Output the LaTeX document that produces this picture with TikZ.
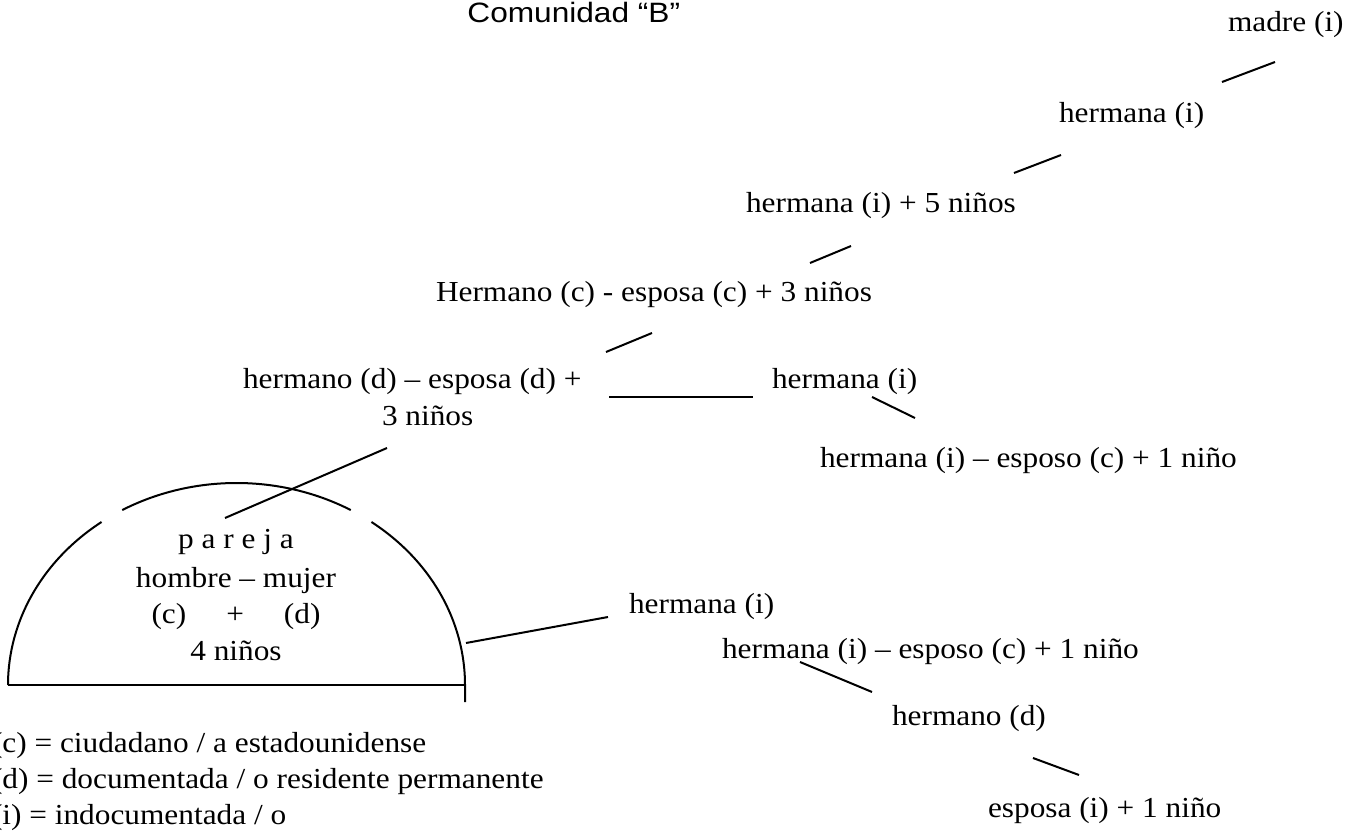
\documentclass[tikz,border=0pt]{standalone}
\usepackage{fontspec}
\setmainfont{Liberation Serif}[FakeStretch=1.08]
\newfontfamily\titlefont{Liberation Sans}[FakeStretch=1.13]
\usetikzlibrary{calc}
\begin{document}
\begin{tikzpicture}[x=0.5pt,y=-0.5pt,
  lbl/.style={inner sep=0pt,outer sep=0pt,font=\fontsize{14.5pt}{18.5pt}\selectfont},
  lw/.style={lbl,anchor=base west},
  lc/.style={lbl,anchor=base},
  conn/.style={line width=1pt},
  shapeline/.style={line width=1pt}]
\useasboundingbox (0,0) rectangle (1348,839);

% title
\node[inner sep=0pt,anchor=base west,font=\titlefont\fontsize{14pt}{17pt}\selectfont] (title) at (467,23) {Comunidad “B”};

% chain of relatives
\node[lw] (madre) at (1228,32) {madre (i)};
\node[lw] (herm1) at (1059,123) {hermana (i)};
\node[lw] (herm2) at (746,213) {hermana (i) + 5 niños};
\node[lw] (hermc) at (436,302) {Hermano (c) - esposa (c) + 3 niños};
\node[lw] (hermd) at (243,388) {hermano (d) – esposa (d) +};
\node[lw] (hermd2) at (382,425) {3 niños};
\node[lw] (herm3) at (772,388) {hermana (i)};
\node[lw] (herm4) at (820,467) {hermana (i) – esposo (c) + 1 niño};

% pareja
\node[lc] (p1) at (236,548) {p a r e j a};
\node[lc] (p2) at (236,587) {hombre – mujer};
\node[lc] (p3) at (236,623) {(c)\hspace{20pt}+\hspace{20pt}(d)};
\node[lc] (p4) at (236,660) {4 niños};

% lower right
\node[lw] (herm5) at (629,613) {hermana (i)};
\node[lw] (herm6) at (722,658) {hermana (i) – esposo (c) + 1 niño};
\node[lw] (hermano) at (892,725) {hermano (d)};
\node[lw] (esposa) at (988,817) {esposa (i) + 1 niño};

% legend (cut at the left edge, as in the reference)
\node[lw] (leg1) at (-8,752) {(c) = ciudadano / a estadounidense};
\node[lw] (leg2) at (-8,788) {(d) = documentada / o residente permanente};
\node[lw] (leg3) at (-8,824) {(i) = indocumentada / o};

% half ellipse with gaps
\coordinate (ec) at (236.5,685);
\coordinate (eL) at (8,685);
\coordinate (eR) at (465,685);
\coordinate (eR2) at (465,702);
\draw[shapeline] (eL) arc[start angle=180,end angle=233.8,x radius=228.5,y radius=202];
\draw[shapeline] ($(ec)+(240:228.5 and 202)$) arc[start angle=240,end angle=300,x radius=228.5,y radius=202];
\draw[shapeline] ($(ec)+(306.2:228.5 and 202)$) arc[start angle=306.2,end angle=360,x radius=228.5,y radius=202] -- (eR2);
\draw[shapeline] (eL) -- (eR);

% connectors
\coordinate (a1) at (1222,82);  \coordinate (b1) at (1275,62);
\coordinate (a2) at (1014,173); \coordinate (b2) at (1061,155);
\coordinate (a3) at (810,263);  \coordinate (b3) at (851,246);
\coordinate (a4) at (606,352);  \coordinate (b4) at (652,333);
\coordinate (a5) at (387,448);  \coordinate (b5) at (225,518);
\coordinate (u1) at (609,397);  \coordinate (u2) at (753,397);
\coordinate (a6) at (872,397);  \coordinate (b6) at (915,418);
\coordinate (a7) at (466,643);  \coordinate (b7) at (608,617);
\coordinate (a8) at (800,662);  \coordinate (b8) at (872,692);
\coordinate (a9) at (1033,758); \coordinate (b9) at (1079,775);
\draw[conn] (a1) -- (b1);
\draw[conn] (a2) -- (b2);
\draw[conn] (a3) -- (b3);
\draw[conn] (a4) -- (b4);
\draw[conn] (a5) -- (b5);
\draw[conn] (u1) -- (u2);
\draw[conn] (a6) -- (b6);
\draw[conn] (a7) -- (b7);
\draw[conn] (a8) -- (b8);
\draw[conn] (a9) -- (b9);
\end{tikzpicture}
\end{document}
